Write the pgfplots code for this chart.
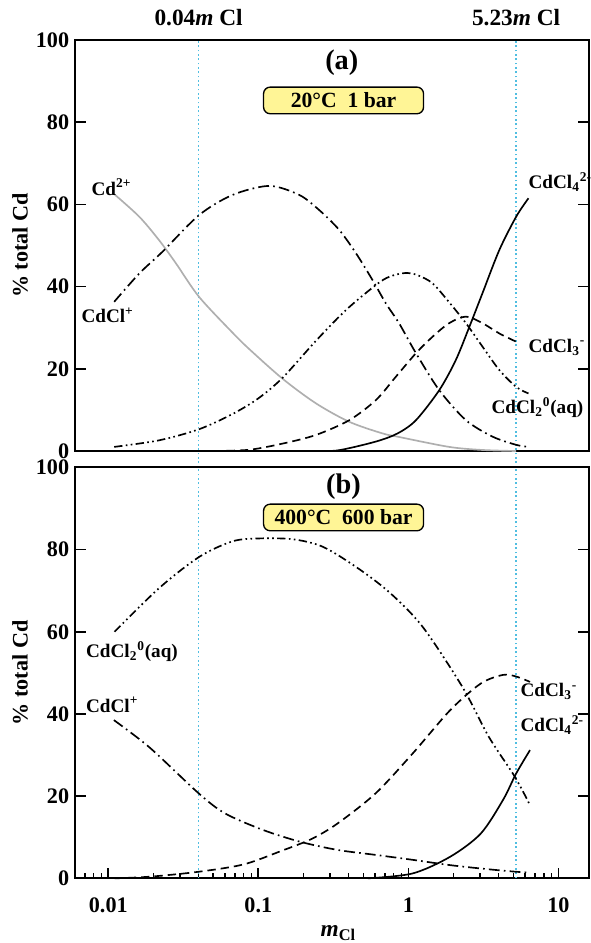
\documentclass[border=0pt]{standalone}
\usepackage{fontspec}
\setmainfont{Liberation Serif}
\usepackage{pgfplots}
\pgfplotsset{compat=1.18}

\definecolor{refcyan}{RGB}{80,190,225}
\definecolor{boxyellow}{RGB}{255,245,150}
\definecolor{cdgray}{RGB}{175,175,175}

\newcommand\lbl{\fontsize{11.5}{13}\selectfont\bfseries}
\newcommand\tk{\fontsize{13.3}{15}\selectfont\bfseries}
\newcommand\bx{\fontsize{13}{15}\selectfont\bfseries}

\tikzset{
  tbox/.style={draw=black, line width=0.8pt, fill=boxyellow, rounded corners=4pt,
    minimum width=96pt, minimum height=16pt, inner sep=1pt, font=\bx},
}
\pgfplotsset{
  spec/.style={
    width=308.4pt, height=246.6pt, scale only axis,
    xmin=0.006, xmax=16, ymin=0, ymax=100,
    ytick={0,20,...,100},
    axis line style={line width=1.2pt},
    major tick style={line width=1pt, black},
    minor tick style={line width=0.8pt, black},
    tick align=inside,
    major tick length=6.5pt, minor tick length=3.5pt,
    ticklabel style={font=\tk},
    /pgf/number format/assume math mode=true,
    clip=false,
  },
  cdp/.style={line width=1pt, cdgray, smooth, tension=0.5},
  clp/.style={line width=1pt, black, smooth, tension=0.5, dash pattern=on 6.5pt off 2.5pt on 1pt off 2.5pt},
  cl2/.style={line width=1pt, black, smooth, tension=0.5, dash pattern=on 5pt off 2pt on 1pt off 2pt on 1pt off 2pt},
  cl3/.style={line width=1pt, black, smooth, tension=0.5, dash pattern=on 5pt off 3pt},
  cl4/.style={line width=1pt, black, smooth, tension=0.5},
  vline/.style={line width=0.8pt, refcyan, dash pattern=on 1pt off 1.6pt},
}

\begin{document}
\begin{tikzpicture}
\path[use as bounding box] (-45pt,-295.2pt) rectangle (309pt,270.6pt);

% (a) 20 C, 1 bar
\begin{semilogxaxis}[spec, name=a, at={(0,0)}, anchor=south west, xtick=\empty]
\addplot[vline] coordinates {(0.04,-4) (0.04,100)};
\addplot[vline] coordinates {(5.23,-4) (5.23,100)};
% Cd2+
\addplot[cdp] coordinates {(0.01095,62.5) (0.0161,57.0) (0.0218,51.3) (0.0282,45.7) (0.0403,37.5) (0.0673,28.8) (0.087,24.8) (0.145,17.6) (0.242,11.6) (0.404,7.1) (0.67,4.3) (0.87,3.4) (1.87,1.0) (3.12,0.25) (5.23,0)};
% CdCl+
\addplot[clp] coordinates {(0.01095,36.3) (0.0161,43.2) (0.0230,48.5) (0.0403,57.4) (0.0673,62.3) (0.1184,64.5) (0.1876,62.3) (0.255,58.6) (0.346,53.8) (0.448,48.1) (0.577,41.6) (0.709,35.9) (0.87,31.0) (1.124,23.8) (1.607,14.8) (2.42,7.5) (3.64,3.5) (5.23,1.5) (6.32,1.0)};
% CdCl2 0
\addplot[cl2] coordinates {(0.01095,1.0) (0.0218,2.6) (0.0403,5.3) (0.0673,9.0) (0.1,12.8) (0.145,17.8) (0.242,26.8) (0.384,34.3) (0.608,40.4) (0.747,42.4) (0.95,43.3) (1.15,42.8) (1.45,40.8) (1.87,36.2) (2.42,31.1) (3.12,25.4) (4.04,19.7) (5.23,15.6) (6.32,14.0)};
% CdCl3-
\addplot[cl3] coordinates {(0.05,0) (0.087,0.3) (0.145,1.8) (0.242,3.9) (0.404,7.5) (0.608,12.4) (0.827,18.1) (1.124,23.8) (1.45,27.8) (1.87,31.1) (2.42,32.7) (3.12,31.1) (4.04,28.6) (5.23,26.6)};
% CdCl4 2-
\addplot[cl4] coordinates {(0.25,0) (0.346,0.2) (0.608,2.3) (0.85,4.3) (1.124,7.5) (1.607,14.8) (2.07,22.1) (2.55,30.2) (3.12,38.4) (4.04,48.9) (5.23,57.0) (6.32,61.5)};

\node[anchor=west, font=\lbl, inner sep=0pt] at (axis cs:0.0077,64.2) {Cd\textsuperscript{2+}};
\node[anchor=west, font=\lbl, inner sep=0pt] at (axis cs:0.0066,33.1) {CdCl\textsuperscript{+}};
\node[anchor=west, font=\lbl, inner sep=0pt] at (axis cs:6.3,65.5) {CdCl\textsubscript{4}\textsuperscript{2-}};
\node[anchor=west, font=\lbl, inner sep=0pt] at (axis cs:6.3,25.3) {CdCl\textsubscript{3}\textsuperscript{-}};
\node[anchor=west, font=\lbl, inner sep=0pt] at (axis cs:3.57,10.5) {CdCl\textsubscript{2}\textsuperscript{0}(aq)};
\node[font=\fontsize{17}{19}\selectfont\bfseries] at (axis cs:0.36,94.4) {(a)};
\node[tbox] at (axis cs:0.37,85.3) {20°C\ \ 1 bar};
\node[font=\fontsize{14}{16}\selectfont\bfseries] at (axis cs:0.04,105.4) {0.04\textit{m} Cl};
\node[font=\fontsize{14}{16}\selectfont\bfseries] at (axis cs:5.23,105.4) {5.23\textit{m} Cl};
\end{semilogxaxis}

% (b) 400 C, 600 bar
\begin{semilogxaxis}[spec, name=b, at={(0,-9.8pt)}, anchor=north west,
  xtick={0.01,0.1,1,10}, xticklabels={0.01,0.1,1,10},
  minor xtick={0.006,0.007,0.008,0.009,0.02,0.03,0.04,0.05,0.06,0.07,0.08,0.09,0.2,0.3,0.4,0.5,0.6,0.7,0.8,0.9,2,3,4,5,6,7,8,9},
  xtick pos=lower, xticklabel style={yshift=-8pt}]
\addplot[vline] coordinates {(0.04,0) (0.04,100)};
\addplot[vline] coordinates {(5.23,0) (5.23,100)};
% CdCl2 0
\addplot[cl2] coordinates {(0.011,60.0) (0.0218,70.6) (0.0403,78.2) (0.0673,82.0) (0.101,82.7) (0.17,82.5) (0.268,80.7) (0.447,75.8) (0.747,69.6) (1.245,61.2) (2.29,46.6) (3.43,34.5) (5.13,24.7) (6.47,17.8)};
% CdCl+
\addplot[clp] coordinates {(0.0109,38.5) (0.0189,31.8) (0.040,20.7) (0.060,15.8) (0.107,11.8) (0.190,8.9) (0.339,6.9) (0.606,5.7) (1.07,4.5) (1.91,3.2) (3.43,2.2) (5.23,1.6) (6.47,1.4)};
% CdCl3-
\addplot[cl3] coordinates {(0.011,0) (0.0189,0.4) (0.040,1.6) (0.080,3.4) (0.143,6.7) (0.227,9.6) (0.339,13.4) (0.606,20.7) (1.07,30.4) (1.91,41.0) (3.04,47.4) (4.28,49.5) (5.23,49.1) (6.47,47.8)};
% CdCl4 2-
\addplot[cl4] coordinates {(0.537,0) (1.07,1.2) (1.91,5.3) (3.04,10.9) (4.28,19.1) (5.23,25.5) (6.47,31.2)};

\node[anchor=west, font=\lbl, inner sep=0pt] at (axis cs:0.00708,55.1) {CdCl\textsubscript{2}\textsuperscript{0}(aq)};
\node[anchor=west, font=\lbl, inner sep=0pt] at (axis cs:0.00708,42.2) {CdCl\textsuperscript{+}};
\node[anchor=west, font=\lbl, inner sep=0pt] at (axis cs:5.57,45.4) {CdCl\textsubscript{3}\textsuperscript{-}};
\node[anchor=west, font=\lbl, inner sep=0pt] at (axis cs:5.57,37.3) {CdCl\textsubscript{4}\textsuperscript{2-}};
\node[font=\fontsize{17}{19}\selectfont\bfseries] at (axis cs:0.37,95.2) {(b)};
\node[tbox] at (axis cs:0.37,87.8) {400°C\ \ 600 bar};
\end{semilogxaxis}

\node[rotate=90, font=\tk] at (-33pt,123.3pt) {\% total Cd};
\node[rotate=90, font=\tk] at (-33pt,-133.1pt) {\% total Cd};
\node[font=\fontsize{14}{16}\selectfont\bfseries, anchor=base, inner sep=0pt] at (158pt,-291.5pt) {\textit{m}\textsubscript{Cl}};
\end{tikzpicture}
\end{document}
